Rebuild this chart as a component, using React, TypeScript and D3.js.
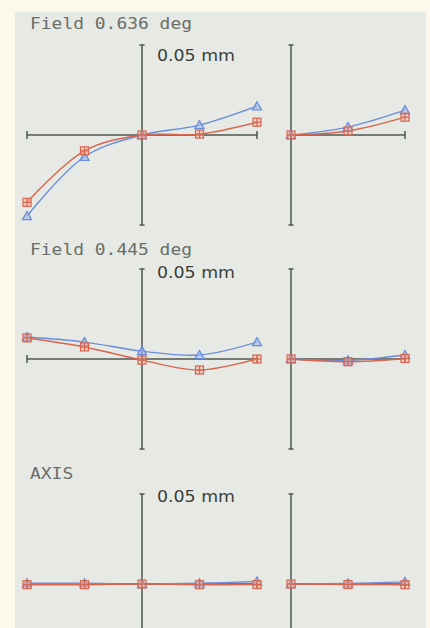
import React from 'react';
import * as d3 from 'd3';

// pupil coordinates
const tanPupil = [-1, -0.5, 0, 0.5, 1];
const sagPupil = [0, 0.5, 1];

// field titles
const fieldTitles = ['Field 0.636 deg', 'Field 0.445 deg', 'AXIS'];
const scaleLabel = '0.05 mm';

// ray aberration (mm), blue = triangles, red = squares
const tanBlue = [
  [-0.045, -0.0121, 0, 0.0055, 0.016],
  [0.0122, 0.0094, 0.0044, 0.0022, 0.0094],
  [0.0004, 0.0004, 0, 0.0004, 0.0014],
];
const tanRed = [
  [-0.0374, -0.0088, 0, 0.0005, 0.0071],
  [0.0117, 0.0067, -0.0006, -0.0061, 0],
  [-0.0004, -0.0004, 0, -0.0004, -0.0003],
];
const sagBlue = [
  [0, 0.0044, 0.0138],
  [0, -0.0008, 0.0022],
  [0, 0.0003, 0.0012],
];
const sagRed = [
  [0, 0.0022, 0.0099],
  [0, -0.0015, 0.0003],
  [0, -0.0003, -0.0004],
];

const W = 430;
const H = 628;

// row layout
const rows = [
  { title: 29, label: 61, axis: 135 },
  { title: 255, label: 278, axis: 359 },
  { title: 479, label: 502, axis: 584 },
];
const half = 90;

const BLUE = '#6a8ddc';
const RED = '#d8654c';
const AXIS = '#4e544f';

const xLeft = d3.scaleLinear().domain([-1, 1]).range([27, 257]);
const xRight = d3.scaleLinear().domain([0, 1]).range([291, 405]);

function Triangle({ x, y }: { x: number; y: number }) {
  const s = 4.5;
  return (
    <path
      d={`M${x},${y - s}L${x + s},${y + s * 0.8}L${x - s},${y + s * 0.8}Z`}
      fill="#a7b9ec"
      fillOpacity={0.6}
      stroke={BLUE}
      strokeWidth={1.3}
    />
  );
}

function Square({ x, y }: { x: number; y: number }) {
  const s = 4;
  return (
    <g stroke={RED} strokeWidth={1.2}>
      <rect x={x - s} y={y - s} width={s * 2} height={s * 2} fill="#eab3a2" fillOpacity={0.45} />
      <line x1={x - s} x2={x + s} y1={y} y2={y} />
      <line x1={x} x2={x} y1={y - s} y2={y + s} />
    </g>
  );
}

function Fan({
  xs,
  pupil,
  y,
  blue,
  red,
}: {
  xs: d3.ScaleLinear<number, number>;
  pupil: number[];
  y: d3.ScaleLinear<number, number>;
  blue: number[];
  red: number[];
}) {
  const line = d3
    .line<number>()
    .x((_, i) => xs(pupil[i]))
    .y(d => y(d))
    .curve(d3.curveCatmullRom.alpha(0.5));
  return (
    <g>
      <path d={line(blue) || ''} fill="none" stroke={BLUE} strokeWidth={1.4} />
      <path d={line(red) || ''} fill="none" stroke={RED} strokeWidth={1.4} />
      {blue.map((v, i) => (
        <Triangle key={'b' + i} x={xs(pupil[i])} y={y(v)} />
      ))}
      {red.map((v, i) => (
        <Square key={'r' + i} x={xs(pupil[i])} y={y(v)} />
      ))}
    </g>
  );
}

export default function App() {
  return (
    <svg
      width={W}
      height={H}
      style={{ position: 'fixed', left: 0, top: 0, display: 'block' }}
    >
      <defs>
        <linearGradient id="edge" x1="0" x2="1" y1="0" y2="0">
          <stop offset="0" stopColor="#222" stopOpacity={0} />
          <stop offset="0.45" stopColor="#222" stopOpacity={0.5} />
          <stop offset="1" stopColor="#111" stopOpacity={1} />
        </linearGradient>
      </defs>
      <rect width={W} height={H} fill="#fdf8ec" />
      <rect x={15} y={12} width={411} height={H - 12} fill="#e6e9e4" />
      <line x1={150} x2={426} y1={12.5} y2={12.5} stroke="url(#edge)" strokeWidth={2} />

      {rows.map((r, k) => {
        const y = d3.scaleLinear().domain([-0.05, 0.05]).range([r.axis + half, r.axis - half]);
        const top = y(0.05);
        const bottom = y(-0.05);
        const x0 = xLeft(0);
        const xr = xRight(0);
        return (
          <g key={k}>
            <text
              x={30}
              y={r.title}
              fontFamily="DejaVu Sans Mono, monospace"
              fontSize={16}
              fill="#6a6e69"
              textLength={fieldTitles[k].length * 10.8}
              lengthAdjust="spacingAndGlyphs"
            >
              {fieldTitles[k]}
            </text>
            <text
              x={157}
              y={r.label}
              fontFamily="DejaVu Sans, sans-serif"
              fontSize={16}
              fill="#3a3d3a"
              textLength={78}
              lengthAdjust="spacingAndGlyphs"
            >
              {scaleLabel}
            </text>

            <g stroke={AXIS} strokeWidth={1.5} fill="none">
              {/* left (tangential) axes */}
              <line x1={x0} x2={x0} y1={top} y2={bottom} />
              <line x1={x0 - 2.5} x2={x0 + 2.5} y1={top} y2={top} />
              <line x1={x0 - 2.5} x2={x0 + 2.5} y1={bottom} y2={bottom} />
              <line x1={xLeft(-1)} x2={xLeft(1)} y1={y(0)} y2={y(0)} />
              <line x1={xLeft(-1)} x2={xLeft(-1)} y1={y(0) - 4} y2={y(0) + 4} />
              <line x1={xLeft(1)} x2={xLeft(1)} y1={y(0) - 4} y2={y(0) + 4} />
              {/* right (sagittal) axes */}
              <line x1={xr} x2={xr} y1={top} y2={bottom} />
              <line x1={xr - 2.5} x2={xr + 2.5} y1={top} y2={top} />
              <line x1={xr - 2.5} x2={xr + 2.5} y1={bottom} y2={bottom} />
              <line x1={xr} x2={xRight(1)} y1={y(0)} y2={y(0)} />
              <line x1={xRight(1)} x2={xRight(1)} y1={y(0) - 4} y2={y(0) + 4} />
            </g>

            <Fan xs={xLeft} pupil={tanPupil} y={y} blue={tanBlue[k]} red={tanRed[k]} />
            <Fan xs={xRight} pupil={sagPupil} y={y} blue={sagBlue[k]} red={sagRed[k]} />
          </g>
        );
      })}
    </svg>
  );
}
